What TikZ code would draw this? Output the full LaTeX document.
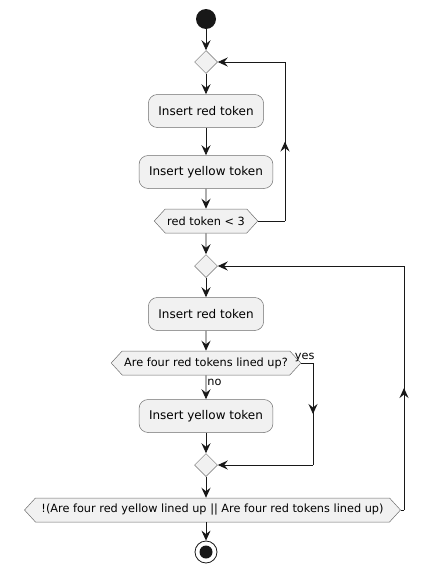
\documentclass[tikz,border=0pt]{standalone}
\usepackage{fontspec}
\setmainfont{DejaVu Sans}
\usetikzlibrary{shapes.geometric, shapes.symbols, arrows.meta, positioning,
                decorations.markings}
\definecolor{boxfill}{HTML}{F1F1F1}
\definecolor{ink}{HTML}{181818}
\definecolor{rim}{HTML}{6E6E6E}
\tikzset{
  action/.style={rectangle, rounded corners=9pt, draw=rim, fill=boxfill,
                 line width=0.5pt, minimum height=33pt, inner xsep=10pt,
                 font=\fontsize{12}{14}\selectfont},
  decide/.style={signal, signal to=east and west, signal pointer angle=95,
                 draw=rim, fill=boxfill, line width=0.5pt,
                 minimum height=24pt, inner xsep=2pt, inner ysep=2pt,
                 font=\fontsize{11.3}{13}\selectfont},
  merge/.style={diamond, draw=rim, fill=boxfill, line width=0.5pt,
                minimum size=23pt, inner sep=0pt},
  startN/.style={circle, fill=ink, minimum size=20pt, inner sep=0pt},
  stopN/.style={circle, draw=ink, fill=white, line width=0.8pt,
                minimum size=22pt, inner sep=0pt,
                path picture={\fill[ink] (path picture bounding box.center)
                              circle (6.5pt);}},
  tip/.tip={Stealth[length=10pt, width=9pt, inset=3.5pt]},
  line/.style={draw=ink, line width=0.9pt},
  flow/.style={line, -tip},
  midarrow/.style={line, postaction={decorate},
                   decoration={markings,
                               mark=at position 0.5 with {\arrow{tip}}}},
  lbl/.style={font=\fontsize{11.3}{13}\selectfont, inner sep=1pt},
}
\begin{document}
\begin{tikzpicture}[x=1pt, y=-1pt]
    \useasboundingbox (0,0) rectangle (429,573);
    %% first loop
    \node[startN] (start) at (206,19) {};
    \node[merge] (merge1) at (206,62) {};
    \node[action] (redA) at (206,111) {Insert red token};
    \node[action] (yellowA) at (206,172) {Insert yellow token};
    \node[decide] (test1) at (206,221) {red token < 3};
    \draw[flow] (start) -- (merge1);
    \draw[flow] (merge1) -- (redA);
    \draw[flow] (redA) -- (yellowA);
    \draw[flow] (yellowA) -- (test1);
    \coordinate (back1a) at (285,221);
    \coordinate (back1b) at (285,62);
    \draw[line] (test1.east) -- (back1a);
    \draw[midarrow] (back1a) -- (back1b);
    \draw[flow] (back1b) -- (merge1.east);
    %% second loop
    \node[merge] (merge2) at (206,266) {};
    \node[action] (redB) at (206,314) {Insert red token};
    \node[decide] (fourRed) at (206,363) {Are four red tokens lined up?};
    \node[action] (yellowB) at (206,416) {Insert yellow token};
    \node[merge] (merge3) at (206,465) {};
    \node[decide, inner xsep=6pt] (test2) at (212.5,510)
         {!(Are four red yellow lined up || Are four red tokens lined up)};
    \node[stopN] (stop) at (206,552) {};
    \draw[flow] (test1) -- (merge2);
    \draw[flow] (merge2) -- (redB);
    \draw[flow] (redB) -- (fourRed);
    \draw[flow] (fourRed) -- node[lbl, right, pos=0.3] {no} (yellowB);
    \draw[flow] (yellowB) -- (merge3);
    \draw[flow] (merge3) -- (test2.north -| merge3);
    \draw[flow] (test2.south -| stop) -- (stop);
    %% yes branch
    \coordinate (yesA) at (313,363);
    \coordinate (yesB) at (313,465);
    \draw[line] (fourRed.east) -- node[lbl, above, pos=0.3] {yes} (yesA);
    \draw[midarrow] (yesA) -- (yesB);
    \draw[flow] (yesB) -- (merge3.east);
    %% back to top of second loop
    \coordinate (back2a) at (404,510);
    \coordinate (back2b) at (404,266);
    \draw[line] (test2.east) -- (back2a);
    \draw[midarrow] (back2a) -- (back2b);
    \draw[flow] (back2b) -- (merge2.east);
\end{tikzpicture}
\end{document}
